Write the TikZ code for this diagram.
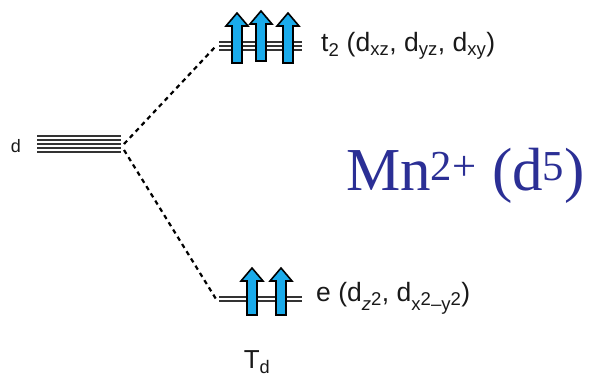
\documentclass[tikz,border=0pt]{standalone}
\usepackage{fontspec}
\setmainfont{Liberation Sans}
\newfontfamily\timesfont{Liberation Serif}
\definecolor{SpinBlue}{HTML}{1AABEB}
\definecolor{MnBlue}{HTML}{2B2F95}
\definecolor{LevelGray}{HTML}{333333}
\usetikzlibrary{positioning,calc}

\newcommand{\lowidx}[1]{\textsubscript{#1}}
\newcommand{\upidx}[1]{\raisebox{0.45ex}{#1}}

\tikzset{
  levelline/.style={draw=LevelGray, line width=1.2pt},
  splitline/.style={draw=black, line width=2.2pt, dash pattern=on 4.5pt off 4pt},
  spin/.style={draw=black, fill=SpinBlue, line width=1.6pt, line join=miter},
  orblabel/.style={anchor=west, inner sep=0pt, text=black!90, font=\fontsize{26.5}{30}\selectfont}
}

\begin{document}
\begin{tikzpicture}[x=1pt, y=-1pt]
  \useasboundingbox (0,0) rectangle (596,386);

  % free ion d level
  \foreach \yy in {136,140,144,148,152}
    \draw[levelline] (37,\yy) -- (121,\yy);
  \node[anchor=center, inner sep=0pt, text=black!90, font=\fontsize{18}{20}\selectfont] (dlab) at (16,146) {d};
  \coordinate (dtop) at (124,144);
  \coordinate (dbot) at (124,150);

  % t2 level
  \foreach \yy in {42,46,50}
    \draw[levelline] (219,\yy) -- (302,\yy);
  \coordinate (tleft) at (216,46);

  % e level
  \foreach \yy in {297,301}
    \draw[levelline] (219,\yy) -- (302,\yy);
  \coordinate (eleft) at (216,299);

  % splitting
  \draw[splitline] (dtop) -- (tleft);
  \draw[splitline] (dbot) -- (eleft);

  % electrons
  \foreach \xx/\yb in {237/63, 261/61, 288/63}
    \draw[spin] (\xx-5,\yb) -- ++(10,0) -- ++(0,-37) -- ++(6,0) -- ++(-11,-13) -- ++(-11,13) -- ++(6,0) -- cycle;
  \foreach \xx in {252,281}
    \draw[spin] (\xx-5,315) -- ++(10,0) -- ++(0,-34) -- ++(6,0) -- ++(-11,-13) -- ++(-11,13) -- ++(6,0) -- cycle;

  % labels
  \node[orblabel] (tlab) at (321,46) {t\lowidx{2} (d\lowidx{xz}, d\lowidx{yz}, d\lowidx{xy})};
  \node[orblabel] (elab) at (316,298) {e (d\lowidx{\textit{z}\upidx{2}}, d\lowidx{x\upidx{2}--y\upidx{2}})};
  \node[inner sep=0pt, text=black!90, font=\fontsize{26}{30}\selectfont] (sym) at (257,362) {T\lowidx{d}};

  \node[anchor=base west, inner sep=0pt, text=MnBlue, font=\timesfont\fontsize{61}{64}\selectfont] (ion) at (346,190) {Mn\textsuperscript{2+} (d\textsuperscript{5})};
\end{tikzpicture}
\end{document}
